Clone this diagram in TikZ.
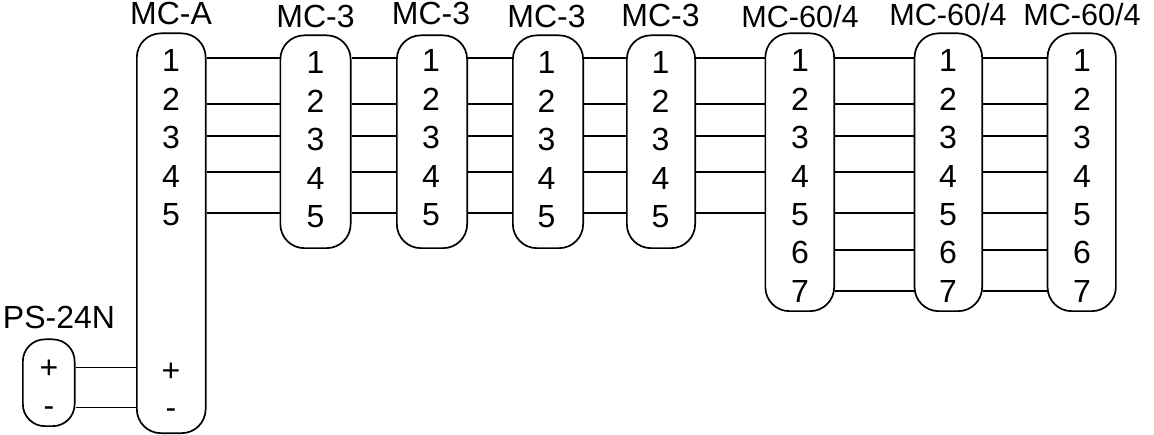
\documentclass[tikz,border=0pt]{standalone}
\usepackage{fontspec}
\setmainfont{Liberation Sans}
\tikzset{
  x=1pt,y=-1pt,
  unit/.style={draw=black,line width=1.7pt,inner sep=0pt,fill=white},
  wire/.style={draw=black,line width=1.7pt},
  title/.style={anchor=base,inner sep=0pt,font=\fontsize{32}{32}\selectfont},
  widetitle/.style={anchor=base,inner sep=0pt,font=\fontsize{30.6}{32}\selectfont},
  pin/.style={anchor=base,inner sep=0pt,font=\fontsize{32}{32}\selectfont}
}
\begin{document}
\begin{tikzpicture}
\useasboundingbox (0,0) rectangle (1154,435);
% rows of the wires
\foreach \r/\y in {1/58,2/104,3/136,4/172,5/213,6/250,7/291,p/367.5,m/407.5}
  \coordinate (r\r) at (0,\y);
% boxes
\foreach \n/\xa/\ya/\xb/\yb/\rad in {
  A/136/32.5/206.5/434/24,
  B/279.5/34.5/351.5/249/24,
  C/396/34.5/468/249/24,
  D/512/34.5/584/249/24,
  E/626/34.5/696/249/24,
  F/764.5/32.5/835/312/24,
  G/913.7/32.5/983/312/24,
  H/1046.7/32.5/1116.7/312/24,
  P/22/338.5/75.5/427/22}
  \node[unit,rounded corners=\rad pt,minimum width={\xb-\xa-1.7},minimum height={\yb-\ya-1.7}] (\n) at ({(\xa+\xb)/2},{(\ya+\yb)/2}) {};
% wires
\foreach \a/\b/\rows in {
  A/B/{1,2,3,4,5},B/C/{1,2,3,4,5},C/D/{1,2,3,4,5},D/E/{1,2,3,4,5},E/F/{1,2,3,4,5},
  F/G/{1,2,3,4,5,6,7},G/H/{1,2,3,4,5,6,7},P/A/{p,m}}
  \foreach \r in \rows
    \draw[wire] (\a.east |- r\r) -- (\b.west |- r\r);
% titles
\node[title] (tA) at (171,25) {MC-A};
\node[title] (tB) at (315.5,27.5) {MC-3};
\node[title] (tC) at (431,25) {MC-3};
\node[title] (tD) at (546.5,27.5) {MC-3};
\node[title] (tE) at (660.5,27) {MC-3};
\node[widetitle] (tF) at (800,28) {MC-60/4};
\node[widetitle] (tG) at (948,26) {MC-60/4};
\node[widetitle] (tH) at (1082,26) {MC-60/4};
\node[title] (tP) at (59,329) {PS-24N};
% pin numbers
\foreach \n/\x/\base/\last in {A/171/72/5,B/315.5/74/5,C/431/72/5,D/546.5/74/5,E/660.5/74/5,F/800/72/7,G/948/72/7,H/1082/72/7}
  \foreach \i in {1,...,\last}
    \node[pin] (\n\i) at (\x,{\base+38.4*(\i-1)}) {\i};
\node[pin] (Aplus) at (171,382) {+};
\node[pin] (Aminus) at (171,419) {-};
\node[pin] (Pplus) at (49,379) {+};
\node[pin] (Pminus) at (49,417) {-};
\end{tikzpicture}
\end{document}
